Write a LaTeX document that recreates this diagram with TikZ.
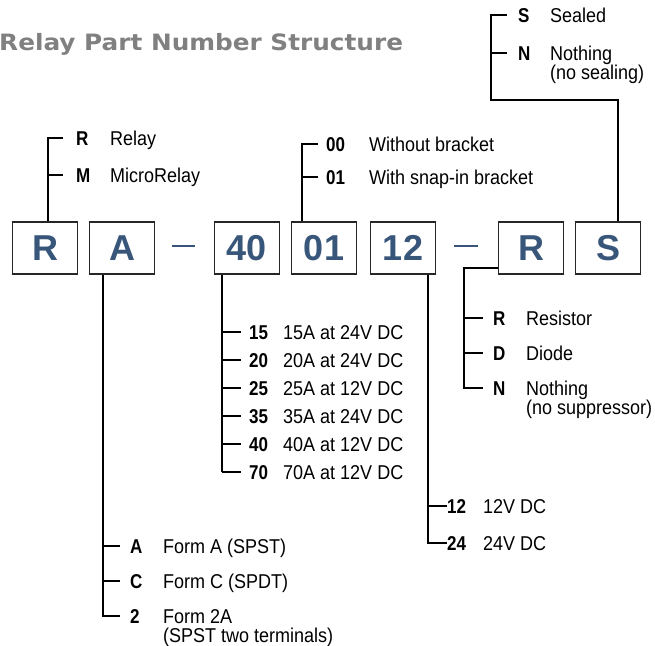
\documentclass[tikz,border=0pt]{standalone}
\usepackage{fontspec}
\setmainfont{Liberation Sans}
\newfontfamily\narrowfont[FakeStretch=0.9]{Liberation Sans}
\newfontfamily\narrowbold[FakeStretch=0.85]{Liberation Sans Bold}
\newfontfamily\headfont{DejaVu Sans Bold}
\definecolor{partblue}{RGB}{56,86,122}
\definecolor{headgray}{RGB}{128,128,128}
\tikzset{
  digitbox/.style={draw=black!85, line width=1.4pt, minimum width=65pt, minimum height=52pt,
    inner sep=0pt, text=partblue, font=\fontsize{36}{36}\selectfont\bfseries},
  lead/.style={line width=1.1pt},
  partdash/.style={line width=2pt, partblue},
  code/.style={anchor=west, inner sep=0pt, text height=14pt, text depth=0pt, font=\fontsize{20}{19}\narrowbold},
  desc/.style={anchor=west, inner sep=0pt, text height=14pt, text depth=0pt, font=\fontsize{20}{19}\narrowfont},
  desctwo/.style={anchor=north west, inner sep=0pt, align=left, font=\fontsize{20}{19}\narrowfont},
}
\begin{document}
\begin{tikzpicture}[x=1pt, y=-1pt, >=stealth]
  \useasboundingbox (0,0) rectangle (655,645);
  \node[anchor=base west, inner sep=0pt, text=headgray, font=\fontsize{22.5}{22.5}\headfont] (title) at (-1,50) {\scalebox{1.1}[1]{Relay Part Number Structure}};

  % part number boxes
  \node[digitbox] (relay) at (45,248) {R};
  \node[digitbox] (form) at (122,248) {A};
  \node[digitbox] (amps) at (247,248) {40};
  \node[digitbox] (bracket) at (324,248) {01};
  \node[digitbox] (coil) at (403,248) {12};
  \node[digitbox] (supp) at (531,248) {R};
  \node[digitbox] (seal) at (608,248) {S};
  \coordinate (dashA) at (183.5,246);
  \coordinate (dashB) at (466,246);
  \draw[partdash] ([xshift=-11.5pt]dashA) -- ([xshift=11.5pt]dashA);
  \draw[partdash] ([xshift=-12pt]dashB) -- ([xshift=12pt]dashB);

  % relay type
  \node[code] (cR) at (76,138) {R};
  \node[desc] (dR) at (110,138) {Relay};
  \node[code] (cM) at (76,175) {M};
  \node[desc] (dM) at (110,175) {MicroRelay};
  \coordinate (relayup) at ([xshift=3pt]relay.north);
  \draw[lead] (relayup) |- ([xshift=-13pt]cR.west);
  \draw[lead] (relayup |- cM.west) -- ([xshift=-13pt]cM.west);

  % bracket
  \node[code] (c00) at (326,144) {00};
  \node[desc] (d00) at (369,144) {Without bracket};
  \node[code] (c01) at (326,177) {01};
  \node[desc] (d01) at (369,177) {With snap-in bracket};
  \coordinate (bracketup) at ([xshift=-22pt]bracket.north);
  \draw[lead] (bracketup) |- ([xshift=-8pt]c00.west);
  \draw[lead] (bracketup |- c01.west) -- ([xshift=-8pt]c01.west);

  % sealing
  \node[code] (cS) at (518,15) {S};
  \node[desc] (dS) at (550,15) {Sealed};
  \node[code] (cSN) at (518,53) {N};
  \node[desctwo] (dSN) at (550,46) {Nothing\\(no sealing)};
  \coordinate (sealup) at ([xshift=10pt]seal.north);
  \coordinate (sealknee) at (491,100);
  \draw[lead] (sealup) |- (sealknee) |- ([xshift=-11pt]cS.west);
  \draw[lead] (sealknee |- cSN.west) -- ([xshift=-11pt]cSN.west);

  % contact rating
  \coordinate (ampsdown) at ([xshift=-25pt]amps.south);
  \foreach \cd/\cv [count=\i] in {15/24, 20/24, 25/12, 35/24, 40/12, 70/12} {
    \node[code] (ca\i) at (249,304+28*\i) {\cd};
    \node[desc] (da\i) at (283,304+28*\i) {\cd A at \cv V DC};
    \draw[lead] (ampsdown |- ca\i.west) -- ([xshift=-8pt]ca\i.west);
  }
  \draw[lead] (ampsdown) -- (ampsdown |- ca6.west);

  % contact form
  \coordinate (formdown) at ([xshift=-19pt]form.south);
  \node[code] (cA) at (130,546) {A};
  \node[desc] (dA) at (163,546) {Form A (SPST)};
  \node[code] (cC) at (130,581) {C};
  \node[desc] (dC) at (163,581) {Form C (SPDT)};
  \node[code] (c2) at (130,616) {2};
  \node[desctwo] (d2) at (163,609) {Form 2A\\(SPST two terminals)};
  \draw[lead] (formdown) |- ([xshift=-10pt]c2.west);
  \draw[lead] (formdown |- cA.west) -- ([xshift=-10pt]cA.west);
  \draw[lead] (formdown |- cC.west) -- ([xshift=-10pt]cC.west);

  % coil voltage
  \coordinate (coildown) at ([xshift=25pt]coil.south);
  \node[code] (c12) at (447,506) {12};
  \node[desc] (d12) at (483,506) {12V DC};
  \node[code] (c24) at (447,543) {24};
  \node[desc] (d24) at (483,543) {24V DC};
  \draw[lead] (coildown) |- (c24.west);
  \draw[lead] (coildown |- c12.west) -- (c12.west);

  % suppression
  \coordinate (suppleft) at ([yshift=-20pt]supp.west);
  \coordinate (suppknee) at (464,268);
  \node[code] (cSR) at (493,318) {R};
  \node[desc] (dSR) at (526,318) {Resistor};
  \node[code] (cSD) at (493,353) {D};
  \node[desc] (dSD) at (526,353) {Diode};
  \node[code] (cSX) at (493,388) {N};
  \node[desctwo] (dSX) at (526,381) {Nothing\\(no suppressor)};
  \draw[lead] (suppleft) -- (suppknee) |- ([xshift=-10pt]cSX.west);
  \draw[lead] (suppknee |- cSR.west) -- ([xshift=-10pt]cSR.west);
  \draw[lead] (suppknee |- cSD.west) -- ([xshift=-10pt]cSD.west);
\end{tikzpicture}
\end{document}
